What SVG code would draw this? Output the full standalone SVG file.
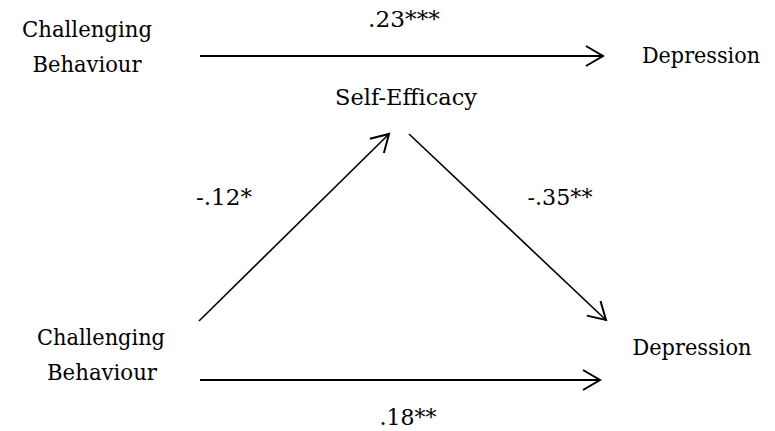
<svg xmlns="http://www.w3.org/2000/svg" width="775" height="431" viewBox="0 0 775 431">
<style>
text{font-family:"DejaVu Serif","Liberation Serif",serif;font-size:23px;fill:#000;text-anchor:middle}
.c{stroke:#000;fill:none}
.h{stroke-width:2.2}
.d{stroke-width:1.6}
</style>
<defs>
<marker id="ah" markerUnits="userSpaceOnUse" markerWidth="40" markerHeight="40" refX="20" refY="20" orient="auto" overflow="visible">
<path d="M3,10 L20,20 L3,30" fill="none" stroke="#000" stroke-width="2"/>
</marker>
</defs>
<rect width="775" height="431" fill="#fff"/>
<g id="connectors">
<line class="c h" x1="200" y1="56" x2="603" y2="56" marker-end="url(#ah)"/>
<line class="c d" x1="199" y1="321" x2="389" y2="134" marker-end="url(#ah)"/>
<line class="c d" x1="409" y1="134" x2="606" y2="320" marker-end="url(#ah)"/>
<line class="c h" x1="200" y1="380" x2="600" y2="380" marker-end="url(#ah)"/>
</g>
<g id="label-top"><text x="404" y="27" textLength="72" lengthAdjust="spacingAndGlyphs">.23***</text></g>
<g id="label-a"><text x="224" y="205" textLength="56" lengthAdjust="spacingAndGlyphs">-.12*</text></g>
<g id="label-b"><text x="560" y="205" textLength="65" lengthAdjust="spacingAndGlyphs">-.35**</text></g>
<g id="label-bottom"><text x="408" y="425" textLength="57" lengthAdjust="spacingAndGlyphs">.18**</text></g>
<g id="cb-top"><text x="87" y="37" textLength="130" lengthAdjust="spacingAndGlyphs">Challenging</text><text x="87" y="72" textLength="109" lengthAdjust="spacingAndGlyphs">Behaviour</text></g>
<g id="dep-top"><text x="701" y="63" textLength="118" lengthAdjust="spacingAndGlyphs">Depression</text></g>
<g id="self-efficacy"><text x="406" y="105" textLength="142" lengthAdjust="spacingAndGlyphs">Self-Efficacy</text></g>
<g id="cb-bottom"><text x="101" y="345" textLength="128" lengthAdjust="spacingAndGlyphs">Challenging</text><text x="102" y="380" textLength="110" lengthAdjust="spacingAndGlyphs">Behaviour</text></g>
<g id="dep-bottom"><text x="692" y="355" textLength="119" lengthAdjust="spacingAndGlyphs">Depression</text></g>
</svg>
